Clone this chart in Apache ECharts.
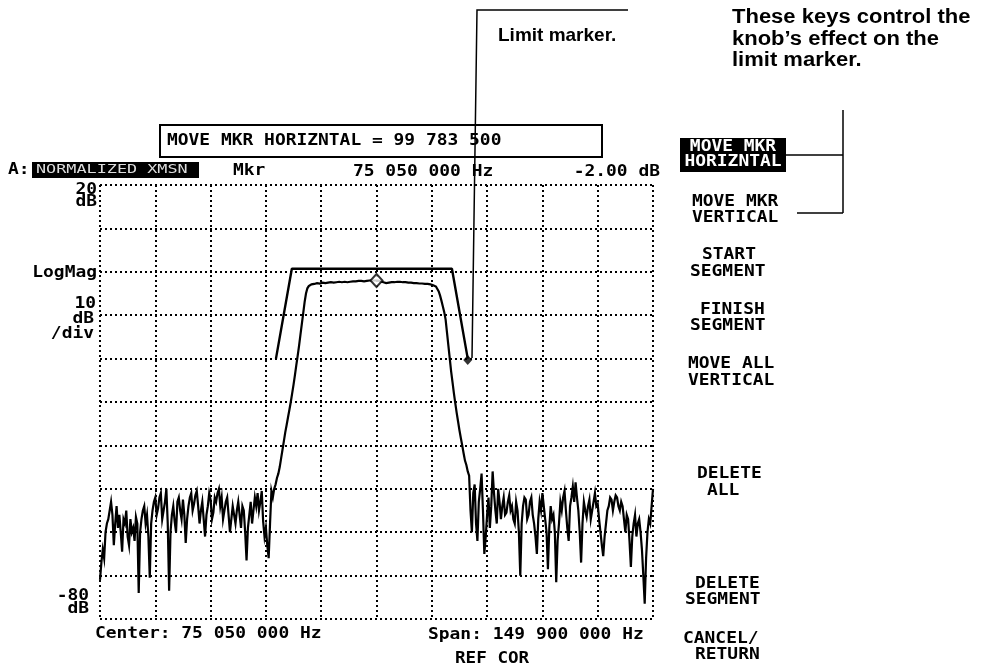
<!DOCTYPE html>
<html><head><meta charset="utf-8">
<script src="https://cdn.jsdelivr.net/npm/echarts@6/dist/echarts.min.js"></script>
<style>html,body{margin:0;padding:0;background:#fff}#c{width:983px;height:666px}</style>
</head><body><div id="c"></div>
<script>
const sweepStartMHz = 0.1;
const sweepStopMHz = 150;
const traceDb = [
 -71,-67,-64,-66,-60,-58,-57,-55,-53,-56,
 -63,-58,-54,-59,-56,-60,-64.5,-57,-58,-55,
 -61,-63,-57,-60,-59,-62,-56.5,-58,-74,-60,
 -57,-55,-54,-58,-56,-61,-70.5,-58,-55,-53,
 -52,-56,-54.5,-52,-51,-57,-55,-53,-50,-58,
 -73.5,-60,-56,-54,-57.5,-60,-53,-52,-55,-57,
 -52.5,-56,-62.5,-57,-54,-52,-51,-55,-53.5,-51.5,
 -50.5,-54,-58,-55,-53,-57,-61,-56,-54,-51,
 -52.5,-57,-55.5,-52,-53,-51,-50,-54,-52,-57,
 -55,-53,-52,-56,-60,-57,-54,-56,-58,-55,
 -53,-56,-59,-54,-55,-60,-66.5,-59,-56,-53,
 -58,-55,-52,-54,-51,-55,-53,-50.5,-57.5,-61,
 -59,-63,-66,-58,-50.5,-52,-50,-49,-47.5,-46.5,
 -45,-43,-41,-39,-37,-35.3,-33.5,-31.8,-30,-28,
 -26,-23.8,-21.5,-19.3,-17,-14.5,-12,-9.5,-7,-5,
 -3.8,-3.3,-3.0,-2.9,-2.8,-2.8,-2.7,-2.6,-2.6,-2.7,
 -2.6,-2.5,-2.5,-2.6,-2.6,-2.5,-2.5,-2.4,-2.4,-2.5,
 -2.5,-2.4,-2.4,-2.3,-2.4,-2.4,-2.3,-2.3,-2.3,-2.4,
 -2.4,-2.3,-2.3,-2.2,-2.2,-2.2,-2.2,-2.1,-2.1,-2.1,
 -2.1,-2.2,-2.2,-2.1,-2.1,-2.0,-2.0,-2.0,-2.0,-2.0,
 -2.0,-2.0,-2.1,-2.2,-2.3,-2.4,-2.5,-2.6,-2.6,-2.5,
 -2.5,-2.4,-2.4,-2.4,-2.4,-2.3,-2.3,-2.3,-2.4,-2.4,
 -2.4,-2.4,-2.5,-2.5,-2.5,-2.5,-2.6,-2.6,-2.6,-2.6,
 -2.7,-2.7,-2.7,-2.7,-2.8,-2.8,-2.8,-2.8,-2.9,-2.9,
 -3.0,-3.1,-3.2,-3.4,-3.6,-4.5,-5.5,-6.7,-8,-9.3,
 -11,-14,-17,-20,-23,-25.5,-28,-30.3,-32.5,-34.5,
 -36.5,-38.3,-40,-41.8,-43.5,-44.5,-46,-47,-55,-60,
 -51,-49,-58,-62,-53,-50,-46.5,-55,-65,-61,
 -56,-52,-59,-54,-46,-51,-55,-58,-50,-53,
 -57,-54,-52,-56,-55.5,-53,-51.5,-55,-54,-57,
 -58,-53,-55,-60,-70,-58,-54,-52,-52.5,-57,
 -56,-53,-52,-56,-58,-61,-65,-57,-53,-55,
 -51,-54,-57,-60,-68.5,-59,-54,-57,-56,-60,
 -71.5,-62,-58,-53,-55,-52,-50.5,-55,-59,-62,
 -54,-52,-49.5,-53,-48.5,-52,-55,-60,-67,-58,
 -53,-55,-56.5,-54,-52.5,-57,-55,-53,-51,-54,
 -53.5,-57,-60,-63,-65.5,-61,-58,-55,-54,-52,
 -52.5,-55,-53,-51.5,-52,-54,-55,-53,-54,-57,
 -60,-56,-57,-62,-68,-61,-58,-56,-61,-58,
 -57,-60,-64,-70,-76.5,-66,-60,-57,-58,-54,
 -50
];
const limitFreqMHz = [47.8, 52.1, 95.5, 99.7835];
const limitDb = [-20, 0.7, 0.7, -20];
const markerFreqMHz = [75.05];
const markerDb = [-2.0];
const limitMarkerFreqMHz = [99.7835];
const limitMarkerDb = [-20.3];
const yMin = -80, yMax = 20, yStep = 10;
const xDivisions = 10;

// ---- texts ----
const leftLabels = [["20", "dB"], ["LogMag"], ["10", "dB", "/div"], ["-80", "dB"]];
const headerTexts = ["A:", "NORMALIZED XMSN", "Mkr", "75 050 000 Hz", "-2.00 dB"];
const entryText = "MOVE MKR HORIZNTAL = 99 783 500";
const footerTexts = ["Center: 75 050 000 Hz", "Span: 149 900 000 Hz", "REF COR"];
const softkeys = [["MOVE MKR", "HORIZNTAL"], ["MOVE MKR", "VERTICAL"], ["START", "SEGMENT"], ["FINISH", "SEGMENT"],
                  ["MOVE ALL", "VERTICAL"], ["DELETE", "ALL"], ["DELETE", "SEGMENT"], ["CANCEL/", "RETURN"]];
const noteLimit = "Limit marker.";
const noteKeys = ["These keys control the", "knob\u2019s effect on the", "limit marker."];

// ---- layout ----
const MONO = 'bold 16px "DejaVu Sans Mono"';
const SX = 1.12;
function T(x, y, text, o) {
  o = o || {};
  return {type: 'text', x: x, y: y, scaleX: o.sx !== undefined ? o.sx : SX, z: o.z || 100,
    style: {text: text, font: o.font || MONO, fill: o.fill || '#000',
      textAlign: o.align || 'left', align: o.align || 'left',
      textVerticalAlign: 'middle', verticalAlign: 'middle'}};
}
function L(x1, y1, x2, y2, w) {
  return {type: 'line', z: 110, shape: {x1: x1, y1: y1, x2: x2, y2: y2}, style: {stroke: '#000', lineWidth: w || 1.5}};
}
const g = [];
// left axis labels
g.push(T(97, 190, leftLabels[0][0], {align: 'right'}));
g.push(T(97, 202, leftLabels[0][1], {align: 'right'}));
g.push(T(97, 273, leftLabels[1][0], {align: 'right'}));
g.push(T(96, 304, leftLabels[2][0], {align: 'right'}));
g.push(T(94, 319, leftLabels[2][1], {align: 'right'}));
g.push(T(94, 334, leftLabels[2][2], {align: 'right'}));
g.push(T(89, 596, leftLabels[3][0], {align: 'right'}));
g.push(T(89, 609, leftLabels[3][1], {align: 'right'}));
// header
g.push(T(8, 170, headerTexts[0]));
g.push({type: 'rect', z: 95, shape: {x: 32, y: 162, width: 167, height: 16}, style: {fill: '#000'}});
g.push(T(36, 170, headerTexts[1], {font: '12px "DejaVu Sans Mono"', fill: '#ddd', sx: 1.4}));
g.push(T(233, 171, headerTexts[2]));
g.push(T(353, 172, headerTexts[3]));
g.push(T(660, 172, headerTexts[4], {align: 'right'}));
// entry box
g.push({type: 'rect', z: 90, shape: {x: 160, y: 125, width: 442, height: 32}, style: {fill: '#fff', stroke: '#000', lineWidth: 2}});
g.push(T(167, 141, entryText, {font: 'bold 16px "DejaVu Sans Mono"'}));
// footer
g.push(T(95, 634, footerTexts[0]));
g.push(T(428, 635, footerTexts[1]));
g.push(T(455, 659, footerTexts[2], {font: 'bold 16px "DejaVu Sans Mono"', sx: 1.1}));
// softkeys
g.push({type: 'rect', z: 95, shape: {x: 680, y: 138, width: 106, height: 34}, style: {fill: '#000'}});
g.push(T(733, 147, softkeys[0][0], {align: 'center', fill: '#fff'}));
g.push(T(733, 162, softkeys[0][1], {align: 'center', fill: '#fff'}));
const skPos = [
  null,
  [[692, 202], [692, 218]],
  [[702, 255], [690, 272]],
  [[700, 310], [690, 326]],
  [[688, 364], [688, 381]],
  [[697, 474], [707, 491]],
  [[695, 584], [685, 600]],
  [[683, 639], [695, 655]]
];
for (let k = 1; k < softkeys.length; k++) {
  g.push(T(skPos[k][0][0], skPos[k][0][1], softkeys[k][0]));
  g.push(T(skPos[k][1][0], skPos[k][1][1], softkeys[k][1]));
}
// annotations
const NOTE = 'bold 19px "Liberation Sans", Arial, sans-serif';
const NOTE2 = 'bold 20px "Liberation Sans", Arial, sans-serif';
g.push(T(498, 36, noteLimit, {font: NOTE, sx: 1.0}));
g.push(T(732, 17, noteKeys[0], {font: NOTE2, sx: 1.1}));
g.push(T(732, 39, noteKeys[1], {font: NOTE2, sx: 1.1}));
g.push(T(732, 60, noteKeys[2], {font: NOTE2, sx: 1.1}));
g.push({type: 'polyline', z: 110, shape: {points: [[628, 10], [477, 10], [472, 358]]}, style: {stroke: '#000', lineWidth: 1.5, fill: null}});
g.push(L(843, 110, 843, 213));
g.push(L(786, 155, 843, 155));
g.push(L(797, 213, 843, 213));

const dotted = {color: '#000', width: 2, type: [2, 3]};
const step = (sweepStopMHz - sweepStartMHz) / (traceDb.length - 1);
const option = {
  animation: false,
  backgroundColor: '#fff',
  grid: {left: 100, top: 185, width: 553, height: 434, containLabel: false},
  xAxis: [
    {type: 'value', min: sweepStartMHz, max: sweepStopMHz, show: false},
    {type: 'value', min: 0, max: xDivisions, interval: 1, axisLine: {show: false}, axisTick: {show: false},
     axisLabel: {show: false}, splitLine: {show: true, lineStyle: dotted}}
  ],
  yAxis: {type: 'value', min: yMin, max: yMax, interval: yStep, axisLine: {show: false}, axisTick: {show: false},
    axisLabel: {show: false}, splitLine: {show: true, lineStyle: dotted}},
  series: [
    {type: 'line', xAxisIndex: 0, data: traceDb.map((d, i) => [sweepStartMHz + i * step, d]),
     showSymbol: false, lineStyle: {color: '#000', width: 2.2, join: 'miter'}, z: 3},
    {type: 'line', xAxisIndex: 0, data: limitFreqMHz.map((f, i) => [f, limitDb[i]]),
     showSymbol: false, lineStyle: {color: '#000', width: 2.4}, z: 3},
    {type: 'scatter', xAxisIndex: 0, data: markerFreqMHz.map((f, i) => [f, markerDb[i]]),
     symbol: 'diamond', symbolSize: [12, 13], itemStyle: {color: '#fff', borderColor: '#000', borderWidth: 2}, z: 5},
    {type: 'scatter', xAxisIndex: 0, data: limitMarkerFreqMHz.map((f, i) => [f, limitMarkerDb[i]]),
     symbol: 'diamond', symbolSize: [9, 10], itemStyle: {color: '#000'}, z: 5}
  ],
  graphic: g
};
const chart = echarts.init(document.getElementById('c'), null, {renderer: 'canvas'});
chart.setOption(option);
</script></body></html>
